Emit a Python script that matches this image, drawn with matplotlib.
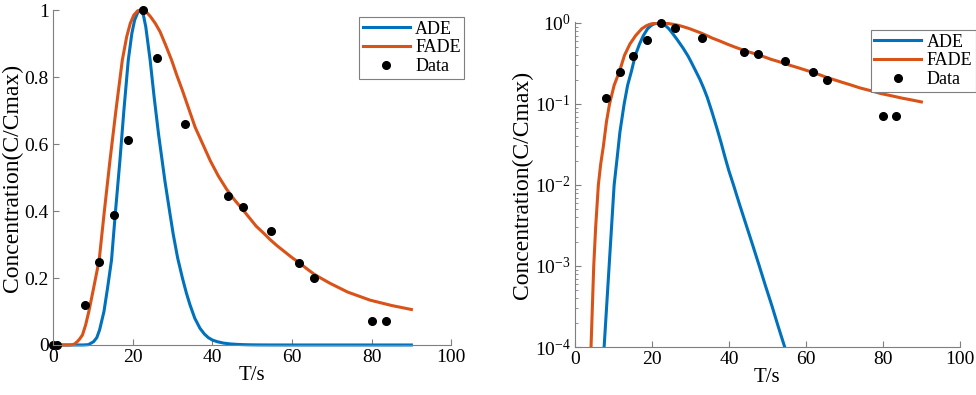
import matplotlib
matplotlib.use('Agg')
import matplotlib.pyplot as plt
import numpy as np
from matplotlib.ticker import FuncFormatter, LogLocator, NullFormatter

plt.rcParams['font.family'] = ['Liberation Serif', 'DejaVu Serif']
plt.rcParams['mathtext.fontset'] = 'stix'

# measured data
data_t = [0, 1, 8.0, 11.6, 15.2, 18.8, 22.5, 26.0, 33.1, 43.9, 47.6, 54.7, 61.9, 65.5, 80.0, 83.5]
data_c = [0, 0, 0.119, 0.247, 0.389, 0.611, 1.0, 0.857, 0.659, 0.444, 0.413, 0.341, 0.246, 0.199, 0.0706, 0.0706]

# ADE model curve
ade_t = [0, 5.0, 6.5, 7.6, 8.9, 10.2, 11.0, 11.7, 12.8, 13.7, 14.7, 15.7, 16.8, 17.8, 18.9, 19.8,
         20.5, 21.3, 22.0, 22.7, 23.3, 24.4, 25.4, 26.5, 28.1, 29.4, 30.2, 31.3, 32.5, 33.5, 34.4,
         35.6, 36.9, 38.0, 39.0, 40.0, 41.2, 42.8, 44.5, 46.2, 47.9, 49.5, 51.2, 52.8, 54.5, 58.0, 90.0]
ade_c = [1e-9, 1e-6, 1.5e-5, 1e-4, 1e-3, 0.01, 0.022, 0.045, 0.1, 0.17, 0.254, 0.40, 0.55, 0.70, 0.85, 0.93,
         0.97, 0.993, 1.0, 0.985, 0.95, 0.85, 0.74, 0.63, 0.49, 0.39, 0.33, 0.26, 0.2, 0.155, 0.12,
         0.08, 0.05, 0.033, 0.022, 0.015, 0.01, 0.0057, 0.0032, 0.0018, 1e-3, 5.7e-4, 3.2e-4, 1.8e-4, 1e-4, 3e-5, 1e-9]

# FADE model curve
fade_t = [0, 3.0, 3.5, 4.2, 4.9, 5.4, 6.1, 6.7, 7.4, 8.2, 9.0, 10.2, 11.6, 12.9, 14.3, 15.8, 17.4,
          18.5, 19.4, 20.3, 21.3, 22.3, 23.4, 24.5, 25.7, 26.9, 28.3, 29.8, 31.1, 32.5, 34.1, 35.7,
          37.6, 39.5, 41.5, 43.6, 45.6, 47.6, 49.3, 51.0, 52.8, 54.5, 56.2, 58.0, 59.9, 61.9, 63.7,
          65.5, 67.5, 69.6, 71.8, 74.0, 76.8, 79.6, 82.3, 85.0, 87.5, 90.0]
fade_c = [1e-9, 1e-6, 1e-5, 1e-4, 1e-3, 3e-3, 0.01, 0.018, 0.03, 0.06, 0.1, 0.17, 0.254, 0.40, 0.55, 0.70, 0.85,
          0.92, 0.96, 0.985, 0.998, 1.0, 0.995, 0.98, 0.96, 0.935, 0.895, 0.85, 0.805, 0.76, 0.705, 0.65,
          0.6, 0.55, 0.505, 0.465, 0.433, 0.405, 0.38, 0.355, 0.335, 0.315, 0.297, 0.28, 0.262, 0.245, 0.228,
          0.212, 0.198, 0.184, 0.171, 0.158, 0.146, 0.134, 0.126, 0.118, 0.112, 0.106]

blue = '#0072BD'
red = '#D95319'
axcol = '#7f7f7f'

fig = plt.figure(figsize=(9.76, 3.95), dpi=100)
ax1 = fig.add_axes([0.0543, 0.1266, 0.408, 0.848])
ax2 = fig.add_axes([0.589, 0.1215, 0.3945, 0.823])


def style(ax):
    for s in ['top', 'right']:
        ax.spines[s].set_visible(False)
    for s in ['left', 'bottom']:
        ax.spines[s].set_color(axcol)
        ax.spines[s].set_linewidth(0.8)
    ax.tick_params(which='both', direction='in', colors=axcol, labelcolor='black', labelsize=14)
    ax.tick_params(which='major', length=4, pad=3)
    ax.tick_params(which='minor', length=2)
    ax.set_xlim(0, 100)
    ax.set_xticks([0, 20, 40, 60, 80, 100])
    ax.set_xlabel('T/s', fontsize=15, labelpad=0)
    ax.set_ylabel('Concentration(C/Cmax)', fontsize=17, labelpad=1)


# linear panel
ax1.plot(ade_t, ade_c, color=blue, lw=2.2, label='ADE', clip_on=False)
ax1.plot(fade_t, fade_c, color=red, lw=2.2, label='FADE', clip_on=False)
ax1.plot(data_t, data_c, 'o', color='black', ms=5.5, label='Data', clip_on=False)
ax1.set_ylim(0, 1)
ax1.set_yticks([0, 0.2, 0.4, 0.6, 0.8, 1.0])
ax1.yaxis.set_major_formatter(FuncFormatter(lambda v, _: f'{v:g}'))
style(ax1)

# log panel
ax2.plot(ade_t, ade_c, color=blue, lw=2.2, label='ADE')
ax2.plot(fade_t, fade_c, color=red, lw=2.2, label='FADE')
ax2.plot(data_t, data_c, 'o', color='black', ms=5.5, label='Data', clip_on=False)
ax2.set_yscale('log')
ax2.set_ylim(1e-4, 1.03)
ax2.set_yticks([1e-4, 1e-3, 1e-2, 1e-1, 1e0])
ax2.yaxis.set_minor_locator(LogLocator(base=10, subs=np.arange(2, 10)))
ax2.yaxis.set_minor_formatter(NullFormatter())
style(ax2)

for ax, loc in [(ax1, (0.368, 0.957)), (ax2, (0.892, 0.924))]:
    leg = ax.legend(loc='upper left', bbox_to_anchor=loc, bbox_transform=fig.transFigure,
                    fontsize=13, fancybox=False, edgecolor=axcol, framealpha=1,
                    handlelength=2.6, handletextpad=0.3, borderpad=0.2, labelspacing=0.1,
                    borderaxespad=0)
    leg.get_frame().set_linewidth(0.8)

fig.savefig('out.png', dpi=100)
